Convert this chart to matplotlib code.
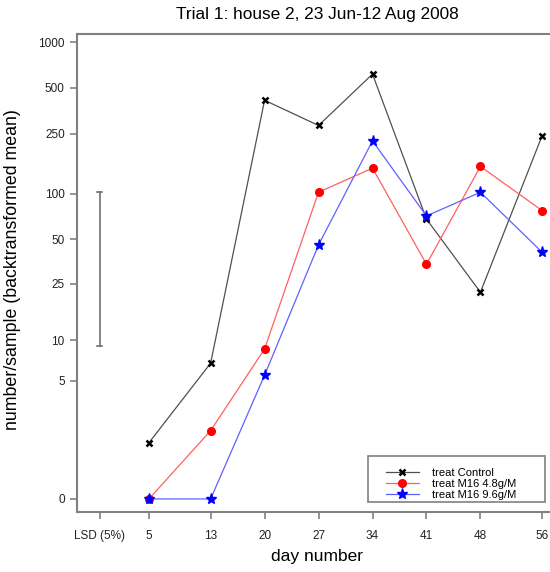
import numpy as np
import matplotlib
matplotlib.use("Agg")
import matplotlib.pyplot as plt
from matplotlib.patches import Rectangle

plt.rcParams['font.family'] = ['Liberation Sans', 'DejaVu Sans']

days = [5, 13, 20, 27, 34, 41, 48, 56]
tick_labels = ['LSD (5%)', '5', '13', '20', '27', '34', '41', '48', '56']
lsd_pos = -1.4
control = [1.34, 6.8, 415, 283, 617, 68, 21.8, 242]
m16_48 = [0, 1.81, 8.67, 102.5, 148, 33.8, 152, 77.4]
m16_96 = [0, 0, 5.5, 45.7, 224, 71.3, 102.5, 40.8]
lsd_low, lsd_high = 9.12, 102.5
yticks = [0, 5, 10, 25, 50, 100, 250, 500, 1000]

fig = plt.figure(figsize=(5.5, 5.72), dpi=100)
ax = fig.add_axes([76.5/550, 60/572, 481/550, 478.5/572])

fwd = lambda y: np.log(np.maximum(np.asarray(y, float) + 1, 1e-9))
inv = lambda v: np.exp(v) - 1
ax.set_yscale('function', functions=(fwd, inv))

ax.plot(days, control, color='#505050', lw=0.9, marker='x', ms=4.5, mew=1.8,
        mec='black', label='treat Control')
ax.plot(days, m16_48, color='#ff6060', lw=0.9, marker='o', ms=5.5,
        mfc='red', mec='red', label='treat M16 4.8g/M')
ax.plot(days, m16_96, color='#6060ff', lw=0.9, marker='*', ms=8,
        mfc='blue', mec='blue', label='treat M16 9.6g/M')

ax.plot([lsd_pos, lsd_pos], [lsd_low, lsd_high], color='#707070', lw=1.2)
ax.plot([lsd_pos - 0.3, lsd_pos + 0.3], [lsd_low, lsd_low], color='#707070', lw=1.2)
ax.plot([lsd_pos - 0.3, lsd_pos + 0.3], [lsd_high, lsd_high], color='#707070', lw=1.2)

ax.set_xlim(-4.4, 58)
ax.set_ylim(-0.179, 1141)
ax.set_xticks([lsd_pos] + days)
ax.set_xticklabels(tick_labels)
ax.set_yticks(yticks)
ax.set_yticklabels([str(v) for v in yticks])
ax.minorticks_off()

for s in ax.spines.values():
    s.set_color('#808080')
    s.set_linewidth(1.5)
ax.tick_params(axis='both', colors='#808080', labelcolor='#222222',
               labelsize=8.5, length=5, width=1.2, direction='out')
ax.tick_params(axis='x', pad=8)

ax.set_xlabel('day number', fontsize=12.5, labelpad=5)
ax.set_ylabel('number/sample (backtransformed mean)', fontsize=12.8)
ax.yaxis.set_label_coords(21/550, 1 - 270/572, transform=fig.transFigure)
fig.text(317/550, 1 - 14/572, 'Trial 1: house 2, 23 Jun-12 Aug 2008',
         ha='center', va='center', fontsize=12.4)

leg = ax.legend(loc='upper left', bbox_to_anchor=(380/550, 1 - 462/572),
                bbox_transform=fig.transFigure, fontsize=8, frameon=False,
                handlelength=3.0, labelspacing=0.12, borderpad=0.0,
                handletextpad=1.2)
fig.patches.append(Rectangle((368/550, 1 - 502/572), 177/550, 46/572,
                             transform=fig.transFigure, fill=False,
                             edgecolor='#808080', lw=1.2))

fig.savefig('out.png', dpi=100)
